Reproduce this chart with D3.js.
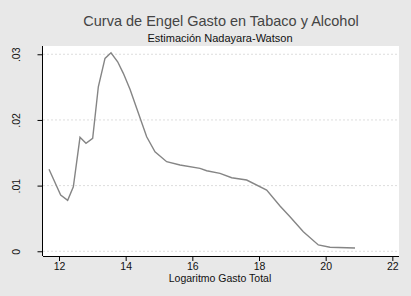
<!DOCTYPE html>
<html>
<head>
<meta charset="utf-8">
<script src="https://cdn.jsdelivr.net/npm/d3@7"></script>
<style>
  body { margin: 0; background: #e8e8e8; }
  svg { display: block; font-family: "Liberation Sans", Arial, sans-serif; }
</style>
</head>
<body>
<script>
// curve values
const logGasto = [11.70, 12.05, 12.26, 12.43, 12.63, 12.81, 13.01, 13.18, 13.38, 13.56,
                  13.76, 13.93, 14.13, 14.33, 14.63, 14.88, 15.23, 15.63, 16.23, 16.43,
                  16.83, 17.18, 17.63, 18.23, 18.63, 18.93, 19.33, 19.78, 20.13, 20.88];
const shareTabaco = [0.01248, 0.00857, 0.00776, 0.00983, 0.01735, 0.01644, 0.0172, 0.02505, 0.02937, 0.03023,
                     0.02886, 0.0271, 0.02466, 0.02177, 0.01744, 0.01516, 0.01364, 0.01313, 0.01263, 0.01227,
                     0.01187, 0.0112, 0.01085, 0.00933, 0.00690, 0.00527, 0.00298, 0.00096, 0.00061, 0.0005];
const xTicks = [12, 14, 16, 18, 20, 22];
const yTicks = [0, 0.01, 0.02, 0.03];
const yTickLabels = ["0", ".01", ".02", ".03"];

const width = 411, height = 296;
const plot = {left: 43, right: 399, top: 46, bottom: 256};

const svg = d3.select("body").append("svg").attr("width", width).attr("height", height);

svg.append("rect").attr("width", width).attr("height", height).attr("fill", "#e8e8e8");
svg.append("rect")
   .attr("x", plot.left).attr("y", plot.top)
   .attr("width", plot.right - plot.left).attr("height", plot.bottom - plot.top)
   .attr("fill", "#ffffff");

const xScale = d3.scaleLinear().domain([11.52, 22.2]).range([plot.left, plot.right]);
const yScale = d3.scaleLinear().domain([-0.00072, 0.03126]).range([plot.bottom, plot.top]);

// gridlines
svg.append("g").selectAll("line")
   .data(yTicks).enter()
   .append("line")
   .attr("x1", plot.left).attr("x2", plot.right)
   .attr("y1", d => yScale(d)).attr("y2", d => yScale(d))
   .attr("stroke", "#dddddd")
   .attr("stroke-dasharray", "2,2")
   .attr("stroke-width", 1);

// axes
const xAxis = d3.axisBottom(xScale).tickValues(xTicks).tickSize(5).tickPadding(2).tickSizeOuter(0);
const yAxis = d3.axisLeft(yScale).tickValues(yTicks).tickSize(5).tickSizeOuter(0)
                .tickFormat((d, i) => yTickLabels[i]);

const gx = svg.append("g").attr("transform", `translate(0, ${plot.bottom})`).call(xAxis);
gx.select(".domain").attr("d", `M${plot.left},0.5H${plot.right}`).attr("stroke", "#000");
gx.selectAll("text").attr("font-size", 10.5).attr("font-family", "Liberation Sans, Arial, sans-serif").attr("fill", "#111");

const gy = svg.append("g").attr("transform", `translate(${plot.left - 0.5}, 0)`).call(yAxis);
gy.select(".domain").attr("d", `M0,${plot.top}V${plot.bottom}`).attr("stroke", "#000");
gy.selectAll("text")
  .attr("font-size", 10.5).attr("font-family", "Liberation Sans, Arial, sans-serif").attr("fill", "#111")
  .attr("text-anchor", "middle")
  .attr("x", 0).attr("dy", null)
  .attr("transform", "translate(-27, 0) rotate(-90)")
  .attr("y", 4);

// curve
const lineGenerator = d3.line()
                        .x((d, i) => xScale(logGasto[i]))
                        .y((d, i) => yScale(shareTabaco[i]));
svg.append("path")
   .attr("fill", "none")
   .attr("stroke", "#858585")
   .attr("stroke-width", 1.4)
   .attr("d", lineGenerator(logGasto));

// titles
svg.append("text")
   .attr("x", 221).attr("y", 26)
   .attr("text-anchor", "middle")
   .attr("font-size", 14.5)
   .attr("fill", "#444")
   .text("Curva de Engel Gasto en Tabaco y Alcohol");
svg.append("text")
   .attr("x", 220).attr("y", 42)
   .attr("text-anchor", "middle")
   .attr("font-size", 11)
   .attr("fill", "#111")
   .text("Estimación Nadayara-Watson");
svg.append("text")
   .attr("x", 220).attr("y", 282)
   .attr("text-anchor", "middle")
   .attr("font-size", 10.5)
   .attr("fill", "#111")
   .text("Logaritmo Gasto Total");
</script>
</body>
</html>
